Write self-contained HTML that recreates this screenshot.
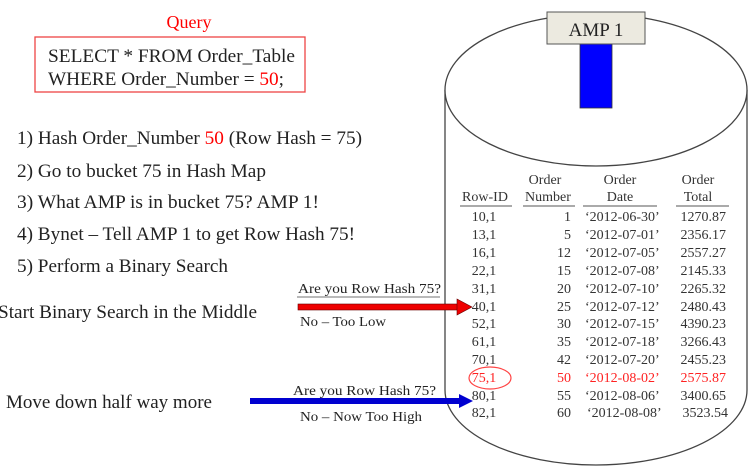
<!DOCTYPE html>
<html><head><meta charset="utf-8"><style>
html,body{margin:0;padding:0;background:#fff;}
svg{display:block;font-family:"Liberation Serif",serif;}
</style></head><body>
<svg width="749" height="475" viewBox="0 0 749 475" xmlns="http://www.w3.org/2000/svg">
<!-- cylinder -->
<path d="M445,90 L445,390 A151,75 0 0 0 747,390 L747,90" fill="#fff" stroke="#444" stroke-width="1.3"/>
<ellipse cx="596" cy="90" rx="151" ry="76" fill="#fff" stroke="#444" stroke-width="1.3"/>
<rect x="580" y="44" width="32" height="64" fill="#0000ff" stroke="#333" stroke-width="0.8"/>
<rect x="547" y="12" width="98" height="32" fill="#eceae0" stroke="#555" stroke-width="1"/>
<text x="596" y="36" font-size="19" text-anchor="middle" fill="#222">AMP 1</text>

<!-- query -->
<text x="189" y="28" font-size="18" text-anchor="middle" fill="#f00">Query</text>
<rect x="35" y="37" width="270" height="55" fill="none" stroke="#e44" stroke-width="1.3"/>
<text x="48" y="62" font-size="19" fill="#222" textLength="247" lengthAdjust="spacingAndGlyphs">SELECT * FROM Order_Table</text>
<text x="48" y="85" font-size="19" fill="#222" textLength="236" lengthAdjust="spacingAndGlyphs">WHERE Order_Number = <tspan fill="#f00">50</tspan>;</text>

<g font-size="19" fill="#222">
<text x="17" y="144" textLength="345" lengthAdjust="spacingAndGlyphs">1) Hash Order_Number <tspan fill="#f00">50</tspan> (Row Hash = 75)</text>
<text x="17" y="177" textLength="249" lengthAdjust="spacingAndGlyphs">2) Go to bucket 75 in Hash Map</text>
<text x="17" y="208" textLength="302" lengthAdjust="spacingAndGlyphs">3) What AMP is in bucket 75?  AMP 1!</text>
<text x="17" y="240" textLength="338" lengthAdjust="spacingAndGlyphs">4) Bynet – Tell AMP 1 to get Row Hash 75!</text>
<text x="17" y="272" textLength="211" lengthAdjust="spacingAndGlyphs">5) Perform a Binary Search</text>
<text x="-2" y="318" textLength="259" lengthAdjust="spacingAndGlyphs">Start Binary Search in the Middle</text>
<text x="6" y="408" textLength="206" lengthAdjust="spacingAndGlyphs">Move down half way more</text>
</g>

<!-- arrows -->
<g font-size="14" fill="#222">
<text x="298" y="293" textLength="143" lengthAdjust="spacingAndGlyphs">Are you  Row Hash 75?</text>
<text x="300" y="326" textLength="86" lengthAdjust="spacingAndGlyphs">No – Too Low</text>
<text x="293" y="395" textLength="143" lengthAdjust="spacingAndGlyphs">Are you  Row Hash 75?</text>
<text x="300" y="421" textLength="122" lengthAdjust="spacingAndGlyphs">No – Now Too High</text>
</g>
<line x1="297" y1="297" x2="440" y2="297" stroke="#444" stroke-width="0.8"/>
<rect x="298" y="304" width="160" height="6" fill="#e00" stroke="#600" stroke-width="0.6"/>
<polygon points="457,299 472,307 457,315" fill="#e00" stroke="#600" stroke-width="0.6"/>
<line x1="292" y1="399" x2="440" y2="399" stroke="#444" stroke-width="0.8"/>
<rect x="250" y="398" width="210" height="6" fill="#0000d0"/>
<polygon points="459,394 473,401 459,408" fill="#0000d0"/>

<!-- table -->
<g font-size="14" fill="#333">
<text x="545" y="184" text-anchor="middle">Order</text>
<text x="620" y="184" text-anchor="middle">Order</text>
<text x="698" y="184" text-anchor="middle">Order</text>
<text x="485" y="201" text-anchor="middle">Row-ID</text>
<text x="548" y="201" text-anchor="middle">Number</text>
<text x="620" y="201" text-anchor="middle">Date</text>
<text x="698" y="201" text-anchor="middle">Total</text>
</g>
<g stroke="#555" stroke-width="1">
<line x1="460" y1="206" x2="512" y2="206"/>
<line x1="523" y1="206" x2="575" y2="206"/>
<line x1="583" y1="206" x2="657" y2="206"/>
<line x1="676" y1="206" x2="729" y2="206"/>
</g>
<g font-size="14" fill="#333">
<text y="221"><tspan x="484" text-anchor="middle">10,1</tspan><tspan x="571" text-anchor="end">1</tspan><tspan x="585">‘2012-06-30’</tspan><tspan x="726" text-anchor="end">1270.87</tspan></text>
<text y="239"><tspan x="484" text-anchor="middle">13,1</tspan><tspan x="571" text-anchor="end">5</tspan><tspan x="585">‘2012-07-01’</tspan><tspan x="726" text-anchor="end">2356.17</tspan></text>
<text y="257"><tspan x="484" text-anchor="middle">16,1</tspan><tspan x="571" text-anchor="end">12</tspan><tspan x="585">‘2012-07-05’</tspan><tspan x="726" text-anchor="end">2557.27</tspan></text>
<text y="275"><tspan x="484" text-anchor="middle">22,1</tspan><tspan x="571" text-anchor="end">15</tspan><tspan x="585">‘2012-07-08’</tspan><tspan x="726" text-anchor="end">2145.33</tspan></text>
<text y="293"><tspan x="484" text-anchor="middle">31,1</tspan><tspan x="571" text-anchor="end">20</tspan><tspan x="585">‘2012-07-10’</tspan><tspan x="726" text-anchor="end">2265.32</tspan></text>
<text y="311"><tspan x="484" text-anchor="middle">40,1</tspan><tspan x="571" text-anchor="end">25</tspan><tspan x="585">‘2012-07-12’</tspan><tspan x="726" text-anchor="end">2480.43</tspan></text>
<text y="328"><tspan x="484" text-anchor="middle">52,1</tspan><tspan x="571" text-anchor="end">30</tspan><tspan x="585">‘2012-07-15’</tspan><tspan x="726" text-anchor="end">4390.23</tspan></text>
<text y="346"><tspan x="484" text-anchor="middle">61,1</tspan><tspan x="571" text-anchor="end">35</tspan><tspan x="585">‘2012-07-18’</tspan><tspan x="726" text-anchor="end">3266.43</tspan></text>
<text y="364"><tspan x="484" text-anchor="middle">70,1</tspan><tspan x="571" text-anchor="end">42</tspan><tspan x="585">‘2012-07-20’</tspan><tspan x="726" text-anchor="end">2455.23</tspan></text>
<text y="382" fill="#f22"><tspan x="484" text-anchor="middle">75,1</tspan><tspan x="571" text-anchor="end">50</tspan><tspan x="585">‘2012-08-02’</tspan><tspan x="726" text-anchor="end">2575.87</tspan></text>
<text y="400"><tspan x="484" text-anchor="middle">80,1</tspan><tspan x="571" text-anchor="end">55</tspan><tspan x="585">‘2012-08-06’</tspan><tspan x="726" text-anchor="end">3400.65</tspan></text>
<text y="417"><tspan x="484" text-anchor="middle">82,1</tspan><tspan x="571" text-anchor="end">60</tspan><tspan x="587">‘2012-08-08’</tspan><tspan x="728" text-anchor="end">3523.54</tspan></text>
</g>
<ellipse cx="490" cy="378" rx="21" ry="11" fill="none" stroke="#f44" stroke-width="1.2"/>
</svg>
</body></html>
